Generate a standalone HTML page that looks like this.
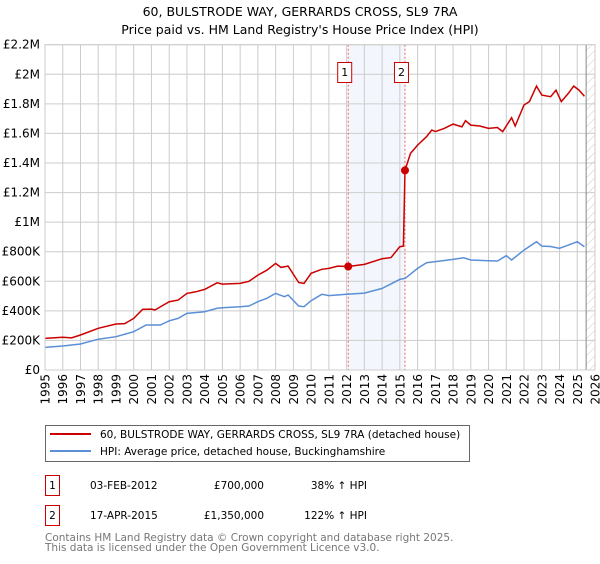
<!DOCTYPE html>
<html><head><meta charset="utf-8"><style>
body{margin:0;background:#fff;font-family:"DejaVu Sans","Liberation Sans",sans-serif;}
svg text{font-family:"DejaVu Sans","Liberation Sans",sans-serif;}
</style></head><body>
<svg id="chart" width="600" height="560" viewBox="0 0 600 560">
<defs>
<pattern id="hatch" width="6" height="6" patternUnits="userSpaceOnUse" patternTransform="rotate(45)">
<line x1="0" y1="0" x2="0" y2="6" stroke="#ccc" stroke-width="1"/>
</pattern>
</defs>
<text x="300" y="16" text-anchor="middle" font-size="12.5" fill="#000">60, BULSTRODE WAY, GERRARDS CROSS, SL9 7RA</text>
<text x="300" y="34" text-anchor="middle" font-size="12.5" fill="#000">Price paid vs. HM Land Registry's House Price Index (HPI)</text>
<g id="grid"></g>
<g id="marks"></g>
<g id="axes"></g>
<rect x="45.5" y="425.5" width="424" height="36" fill="#fff" stroke="#666"/>
<line x1="50" y1="434" x2="91" y2="434" stroke="#cc0000" stroke-width="2"/>
<text x="100" y="438" font-size="10.5">60, BULSTRODE WAY, GERRARDS CROSS, SL9 7RA (detached house)</text>
<line x1="50" y1="451" x2="91" y2="451" stroke="#5b8fd6" stroke-width="2"/>
<text x="100" y="455" font-size="10.5">HPI: Average price, detached house, Buckinghamshire</text>
<rect x="45.5" y="475.5" width="14" height="20" fill="#fff" stroke="#cc0000"/>
<text x="52.5" y="489" text-anchor="middle" font-size="10.5">1</text>
<text x="90" y="489" font-size="10.5">03-FEB-2012</text>
<text x="264" y="489" text-anchor="end" font-size="10.5">£700,000</text>
<text x="367" y="489" text-anchor="end" font-size="10.5">38% ↑ HPI</text>
<rect x="45.5" y="505.5" width="14" height="20" fill="#fff" stroke="#cc0000"/>
<text x="52.5" y="519" text-anchor="middle" font-size="10.5">2</text>
<text x="90" y="519" font-size="10.5">17-APR-2015</text>
<text x="264" y="519" text-anchor="end" font-size="10.5">£1,350,000</text>
<text x="367" y="519" text-anchor="end" font-size="10.5">122% ↑ HPI</text>
<text x="45" y="541" font-size="10.5" fill="#777">Contains HM Land Registry data © Crown copyright and database right 2025.</text>
<text x="45" y="551" font-size="10.5" fill="#777">This data is licensed under the Open Government Licence v3.0.</text>
</svg>
<script>
const yTicks=[0,200000,400000,600000,800000,1000000,1200000,1400000,1600000,1800000,2000000,2200000];
const yTickLabels=["£0","£200K","£400K","£600K","£800K","£1M","£1.2M","£1.4M","£1.6M","£1.8M","£2M","£2.2M"];
const xYears=[1995,1996,1997,1998,1999,2000,2001,2002,2003,2004,2005,2006,2007,2008,2009,2010,2011,2012,2013,2014,2015,2016,2017,2018,2019,2020,2021,2022,2023,2024,2025,2026];
const hpiDates=[1995,1996,1997,1998,1999,2000,2000.7,2001.5,2002,2002.5,2003,2004,2004.7,2005,2006,2006.5,2007,2007.5,2008,2008.5,2008.7,2009.3,2009.6,2010,2010.6,2011,2012,2013,2014,2015,2015.3,2016,2016.5,2017,2018,2018.6,2019,2020,2020.5,2021,2021.3,2022,2022.7,2023,2023.5,2024,2024.5,2025,2025.4];
const hpiValues=[153,162,176,208,225,259,304,304,333,349,383,394,417,421,428,433,462,485,518,496,507,433,428,469,512,503,512,520,552,613,620,687,726,733,748,759,744,739,737,773,744,811,868,838,835,823,845,868,834];
const propDates=[1995,1996,1996.5,1997,1998,1999,1999.5,2000,2000.5,2001,2001.2,2002,2002.5,2003,2003.5,2004,2004.7,2005,2006,2006.5,2007,2007.5,2008,2008.3,2008.7,2009.3,2009.6,2010,2010.6,2011,2011.5,2012.09,2013,2014,2014.5,2015,2015.2,2015.29,2015.6,2016,2016.5,2016.8,2017,2017.5,2018,2018.5,2018.7,2019,2019.5,2020,2020.5,2020.8,2021.3,2021.5,2022,2022.3,2022.7,2023,2023.5,2023.8,2024.1,2024.5,2024.8,2025.1,2025.4];
const propValues=[214,221,217,237,282,311,314,349,410,412,406,462,473,518,529,545,590,581,586,600,642,675,721,694,703,592,586,654,681,687,703,700,714,753,760,834,838,1350,1465,1521,1578,1623,1612,1634,1663,1645,1686,1656,1650,1634,1640,1612,1706,1650,1792,1815,1920,1859,1848,1893,1815,1871,1920,1893,1852];
const saleDates=[2012.09,2015.29];
const saleValues=[700000,1350000];
const saleLabels=["1","2"];
const NS="http://www.w3.org/2000/svg";
const X0=45,X1=595,Y0=370,Y1=44.7;
const xs=d=>X0+(d-1995)/(2026-1995)*(X1-X0);
const ys=v=>Y0-v/2200000*(Y0-Y1);
function mk(tag,attrs,parent){const e=document.createElementNS(NS,tag);for(const k in attrs)e.setAttribute(k,attrs[k]);parent.appendChild(e);return e;}
const grid=document.getElementById('grid'),marks=document.getElementById('marks'),axes=document.getElementById('axes');
let sh=mk('rect',{x:xs(saleDates[0]),y:Y1,width:xs(saleDates[1])-xs(saleDates[0]),height:Y0-Y1,fill:'#eef3fc',opacity:0.7},grid);


let ht=mk('rect',{x:xs(2025.5),y:Y1,width:X1-xs(2025.5),height:Y0-Y1,fill:'url(#hatch)'},grid);


yTicks.forEach((v,i)=>{
 const l=mk('line',{x1:X0,x2:X1,y1:ys(v),y2:ys(v),stroke:'#ccc','stroke-width':1},grid);
 
 
 const t=mk('text',{x:40,y:ys(v)+4,'text-anchor':'end','font-size':12},axes);
 t.textContent=yTickLabels[i];
 
 
});
xYears.forEach(yr=>{
 const l=mk('line',{x1:xs(yr),x2:xs(yr),y1:Y1,y2:Y0,stroke:'#ccc','stroke-width':1},grid);
 
 
 const t=mk('text',{x:0,y:0,'text-anchor':'end','font-size':12,transform:`translate(${xs(yr)+4.5},374) rotate(-90)`},axes);
 t.textContent=yr;
 
 
});
let vl=mk('line',{x1:xs(2025.5),x2:xs(2025.5),y1:Y1,y2:Y0,stroke:'#888','stroke-width':1},grid);


saleDates.forEach((d,i)=>{
 const l=mk('line',{x1:xs(d),x2:xs(d),y1:Y1,y2:Y0,stroke:'#f06060','stroke-width':1,'stroke-dasharray':'2,2'},grid);
 
 
 const r=mk('rect',{x:xs(d)-10.5,y:62.5,width:14,height:20,fill:'#fff',stroke:'#cc0000'},marks);
 
 
 const t=mk('text',{x:xs(d)-3.5,y:76,'text-anchor':'middle','font-size':11},marks);
 t.textContent=saleLabels[i];
 
 
});
const hp=mk('path',{d:hpiDates.map((d,i)=>(i?'L':'M')+xs(d).toFixed(1)+','+ys(hpiValues[i]*1000).toFixed(1)).join(''),fill:'none',stroke:'#5b8fd6','stroke-width':1.5},marks);


const pp=mk('path',{d:propDates.map((d,i)=>(i?'L':'M')+xs(d).toFixed(1)+','+ys(propValues[i]*1000).toFixed(1)).join(''),fill:'none',stroke:'#cc0000','stroke-width':1.5},marks);


saleDates.forEach((d,i)=>{
 const c=mk('circle',{cx:xs(d),cy:ys(saleValues[i]),r:4,fill:'#cc0000'},marks);
 
 
});
const fr=mk('rect',{x:X0,y:Y1,width:X1-X0,height:Y0-Y1,fill:'none',stroke:'#ccc'},axes);


</script>
</body></html>
